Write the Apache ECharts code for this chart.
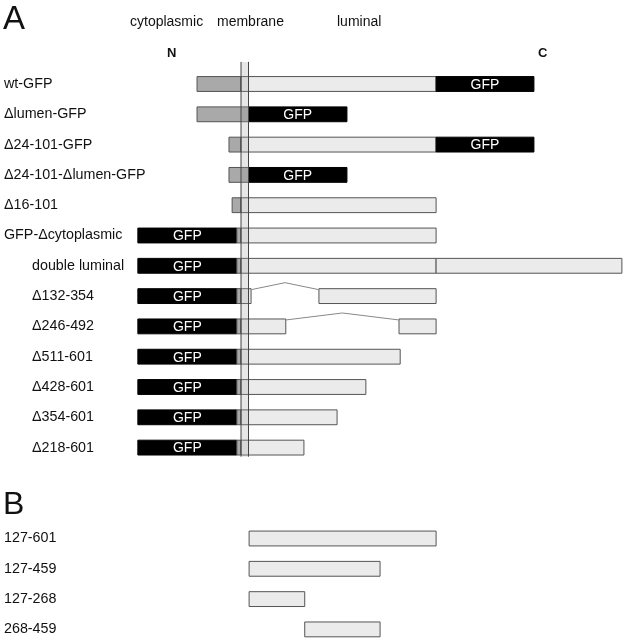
<!DOCTYPE html>
<html><head><meta charset="utf-8">
<script src="https://cdn.jsdelivr.net/npm/echarts@6/dist/echarts.min.js"></script>
<style>html,body{margin:0;padding:0;background:#fff}#c{width:624px;height:639px}</style>
</head><body><div id="c"></div>
<script>
// Row labels (panel A rows 0-12, panel B rows 15-18)
const rowLabels = ['wt-GFP','Δlumen-GFP','Δ24-101-GFP','Δ24-101-Δlumen-GFP','Δ16-101','GFP-Δcytoplasmic',
  'double luminal','Δ132-354','Δ246-492','Δ511-601','Δ428-601','Δ354-601','Δ218-601',
  '127-601','127-459','127-268','268-459'];
const rowPos = [0,1,2,3,4,5,6,7,8,9,10,11,12,15,16,17,18];
const rowIndent = [0,0,0,0,0,0,1,1,1,1,1,1,1,0,0,0,0];
// segment kinds: 0 cytoplasmic, 1 luminal, 2 GFP
// [row, start residue, end residue, kind]
const segments = [
  [0,-5,106.5,0],[0,106.5,601,1],[0,601,849,2],
  [1,-5,125.5,0],[1,125.5,375,2],
  [2,76,106.5,0],[2,106.5,601,1],[2,601,849,2],
  [3,76,125.5,0],[3,125.5,375,2],
  [4,84,106.5,0],[4,106.5,601,1],
  [5,-155,96,2],[5,96,106.5,0],[5,106.5,601,1],
  [6,-155,96,2],[6,96,106.5,0],[6,106.5,601,1],[6,601,1072,1],
  [7,-155,96,2],[7,96,106.5,0],[7,106.5,132,1],[7,304,601,1],
  [8,-155,96,2],[8,96,106.5,0],[8,106.5,220,1],[8,507,601,1],
  [9,-155,96,2],[9,96,106.5,0],[9,106.5,510,1],
  [10,-155,96,2],[10,96,106.5,0],[10,106.5,423,1],
  [11,-155,96,2],[11,96,106.5,0],[11,106.5,350,1],
  [12,-155,96,2],[12,96,106.5,0],[12,106.5,266,1],
  [15,127,601,1],[16,127,459,1],[17,127,268,1],[18,268,459,1]
];
// deletion connectors [row, from, to]
const links = [[7,132,304],[8,220,507]];
// membrane band [start, end, rowTop, rowBottom]
const membrane = [[106.5,125.5,-0.73,12.3]];
const headers = [
  {t:'A',x:3,y:22,s:33,b:false},{t:'B',x:3,y:507,s:32,b:false},
  {t:'cytoplasmic',x:130,y:24,s:14,b:false},{t:'membrane',x:217,y:24,s:14,b:false},
  {t:'luminal',x:337,y:24,s:14,b:false},{t:'N',x:167,y:55,s:13,b:true},{t:'C',x:538,y:55,s:13,b:true}
];

const FONT = '"Liberation Sans", Arial, Helvetica, sans-serif';
const PXR = 0.3945, X0 = 199, ROW = 30.3, Y0 = 84;
const chart = echarts.init(document.getElementById('c'));
const fills = ['#a9a9a9','#ebebeb','#000000'];
chart.setOption({
  animation:false,
  grid:{left:0,right:0,top:0,bottom:0},
  xAxis:{type:'value',min:-X0/PXR,max:(624-X0)/PXR,show:false},
  yAxis:{type:'value',inverse:true,min:-Y0/ROW,max:-Y0/ROW+639/ROW,show:false},
  graphic: headers.map(h=>({type:'text',left:h.x,top:h.y-h.s/2-2,style:{text:h.t,font:(h.b?'bold ':'')+h.s+'px '+FONT,fill:'#111'}})),
  series:[
    {type:'custom',data:segments,z:2,renderItem(p,api){
      const r=api.value(0),a=api.value(1),b=api.value(2),k=api.value(3);
      const p1=api.coord([a,r]),p2=api.coord([b,r]);
      const h=api.size([0,1])[1]*0.49;
      const ch=[{type:'rect',shape:{x:p1[0],y:p1[1]-h/2,width:p2[0]-p1[0],height:h},
        style:{fill:fills[k],stroke:k===2?'#000':'#555',lineWidth:1}}];
      if(k===2) ch.push({type:'text',style:{text:'GFP',x:(p1[0]+p2[0])/2,y:p1[1]+1,align:'center',verticalAlign:'middle',font:'14px '+FONT,fill:'#fff'}});
      return {type:'group',children:ch};
    }},
    {type:'custom',data:links,z:2,renderItem(p,api){
      const r=api.value(0),a=api.value(1),b=api.value(2);
      const h=api.size([0,1])[1]*0.49;
      const p1=api.coord([a,r]),p2=api.coord([b,r]);
      const y=p1[1]-h/2;
      return {type:'polyline',shape:{points:[[p1[0],y+1],[(p1[0]+p2[0])/2,y-6],[p2[0],y+1]]},style:{stroke:'#888',lineWidth:1,fill:null}};
    }},
    {type:'custom',data:membrane,z:3,renderItem(p,api){
      const a=api.coord([api.value(0),api.value(2)]),b=api.coord([api.value(1),api.value(3)]);
      return {type:'group',children:[
        {type:'rect',shape:{x:a[0],y:a[1],width:b[0]-a[0],height:b[1]-a[1]},style:{fill:'rgba(160,160,160,0.25)'}},
        {type:'line',shape:{x1:a[0],y1:a[1],x2:a[0],y2:b[1]},style:{stroke:'#444',lineWidth:1}},
        {type:'line',shape:{x1:b[0],y1:a[1],x2:b[0],y2:b[1]},style:{stroke:'#444',lineWidth:1}}
      ]};
    }},
    {type:'custom',data:rowPos.map((r,i)=>[r,rowIndent[i]]),z:4,renderItem(p,api){
      const r=api.value(0),ind=api.value(1);
      const c=api.coord([0,r]);
      return {type:'text',style:{text:rowLabels[p.dataIndex],x:ind?32:4,y:c[1],verticalAlign:'middle',font:'14.3px '+FONT,fill:'#111'}};
    }}
  ]
});
</script></body></html>
